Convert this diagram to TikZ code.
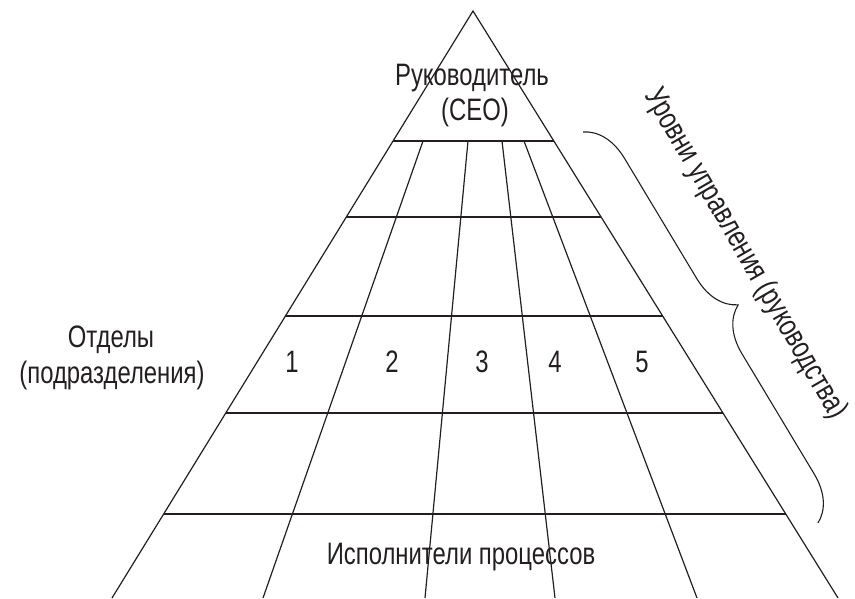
\documentclass[tikz,border=0pt]{standalone}
\usepackage{fontspec}
\setmainfont{Liberation Sans}[FakeStretch=0.77]
\usetikzlibrary{calc,decorations.pathreplacing}
\definecolor{ink}{HTML}{231F20}
\begin{document}
\begin{tikzpicture}[x=1pt,y=-1pt,
  edge/.style={draw=ink,line width=1.2pt},
  lbl/.style={text=ink,font=\fontsize{31}{36}\selectfont,inner sep=0pt,anchor=base},
  bracestyle/.style={draw=ink,line width=1.1pt,decorate,decoration={brace,amplitude=44pt,aspect=0.5}}]
\useasboundingbox (0,0) rectangle (855,598);
% pyramid outline
\coordinate (apex) at (473,11);
\coordinate (bl) at (112,598);
\coordinate (br) at (838,598);
\draw[edge] (bl) -- (apex) -- (br);
% horizontal levels
\foreach \t [count=\i] in {0.2215,0.3509,0.5196,0.6848,0.8569}{
  \coordinate (L\i) at ($(apex)!\t!(bl)$);
  \coordinate (R\i) at ($(apex)!\t!(br)$);
  \draw[edge] (L\i) -- (R\i);
}
% department dividers
\coordinate (d1t) at (423,141); \coordinate (d1b) at (263,598);
\coordinate (d2t) at (468,141); \coordinate (d2b) at (425,598);
\coordinate (d3t) at (502,141); \coordinate (d3b) at (555,598);
\coordinate (d4t) at (524,141); \coordinate (d4b) at (697,598);
\foreach \k in {1,2,3,4}{\draw[edge] (d\k t) -- (d\k b);}
% labels
\node[lbl] (ceo1) at (472,85) {Руководитель};
\node[lbl] (ceo2) at (475,120) {(CEO)};
\node[lbl] (dep1) at (111,347) {Отделы};
\node[lbl] (dep2) at (112,383) {(подразделения)};
\node[lbl] (n1) at (292,372) {1};
\node[lbl] (n2) at (392,372) {2};
\node[lbl] (n3) at (482,372) {3};
\node[lbl] (n4) at (555,372) {4};
\node[lbl] (n5) at (642,372) {5};
\node[lbl] (exec) at (461,564) {Исполнители процессов};
\node[text=ink,font=\fontsize{31}{36}\selectfont,inner sep=0pt,rotate=-60,anchor=center] (levels) at (745,254) {Уровни управления (руководства)};
% brace
\coordinate (bt) at (583,132);
\coordinate (bb) at (818,523);
\draw[bracestyle] (bt) -- (bb);
\end{tikzpicture}
\end{document}
